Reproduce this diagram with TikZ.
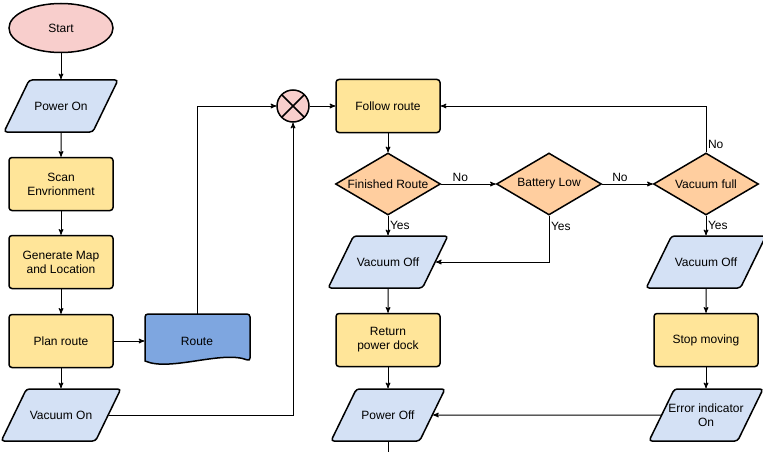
\documentclass[tikz,border=0pt]{standalone}
\usepackage{fontspec}
\setmainfont{Liberation Sans}
\usetikzlibrary{arrows,calc,shapes.geometric}

\definecolor{StartPink}{HTML}{F8CECC}
\definecolor{IoBlue}{HTML}{D4E1F5}
\definecolor{ProcYellow}{HTML}{FFE599}
\definecolor{DecOrange}{HTML}{FFCE9F}
\definecolor{RouteBlue}{HTML}{7EA6E0}

\tikzset{
  startstop/.style={ellipse, draw, line width=1.5pt, fill=StartPink, minimum width=104pt, minimum height=49pt},
  io/.style={trapezium, trapezium left angle=63, trapezium right angle=117, trapezium stretches body,
    draw, line width=1.5pt, rounded corners=3pt, fill=IoBlue, inner ysep=20.5pt,
    minimum width=114pt, minimum height=52pt, align=center},
  process/.style={rectangle, draw, line width=1.5pt, rounded corners=3pt, fill=ProcYellow,
    minimum width=104pt, minimum height=53pt, align=center},
  decision/.style={diamond, draw, line width=1.5pt, fill=DecOrange, minimum width=105pt, minimum height=62pt, inner sep=0pt},
  sumnode/.style={circle, draw, line width=1.5pt, fill=StartPink, minimum size=32pt, inner sep=0pt,
    path picture={\draw[line width=1.5pt] (path picture bounding box.north west) -- (path picture bounding box.south east)
      (path picture bounding box.north east) -- (path picture bounding box.south west);}},
  flow/.style={->, >=stealth', line width=1pt},
  lbl/.style={inner sep=1.5pt}
}

\begin{document}
\begin{tikzpicture}[x=1pt, y=-1pt, font=\fontsize{12}{14}\selectfont]
\useasboundingbox (0,0) rectangle (763,452);

% left column
\node[startstop] (start) at (61,28) {Start};
\node[io] (poweron) at (61,106) {Power On};
\node[process] (scan) at (61,184) {Scan\\Envrionment};
\node[process] (genmap) at (61,262) {Generate Map\\and Location};
\node[process] (plan) at (61,341) {Plan route};
\node[io] (vacon) at (61,415) {Vacuum On};

% route document
\coordinate (R) at (197,341);
\draw[line width=1.5pt, fill=RouteBlue, rounded corners=3pt] ($(R)+(-52,20)$) -- ($(R)+(-52,-27)$) -- ($(R)+(53,-27)$)
  -- ($(R)+(53,20)$) [sharp corners] .. controls ($(R)+(25,9)$) and ($(R)+(-27,31)$) .. ($(R)+(-52,20)$) -- cycle;
\node[minimum width=105pt, minimum height=54pt] (route) at (R) {Route};

\node[sumnode] (sum) at (293,106) {};

% middle column
\node[process] (follow) at (388,106) {Follow route};
\node[decision, label=center:Finished Route] (fin) at (388,184) {};
\node[io] (vacoffL) at (388,262) {Vacuum Off};
\node[process] (ret) at (388,340) {Return\\power dock};
\node[io] (poweroff) at (388,415) {Power Off};
\coordinate (exit) at (388,452);

% right side
\node[decision, label=center:Battery Low] (batt) at (549,184) {};
\node[decision, label=center:Vacuum full] (vacfull) at (706,184) {};
\node[io] (vacoffR) at (706,262) {Vacuum Off};
\node[process] (stop) at (706,340) {Stop moving};
\node[io, inner ysep=13.5pt, inner xsep=-12pt] (err) at (706,415) {Error indicator\\On};

% connectors
\draw[flow] (start) -- (poweron);
\draw[flow] (poweron) -- (scan);
\draw[flow] (scan) -- (genmap);
\draw[flow] (genmap) -- (plan);
\draw[flow] (plan) -- (vacon);
\draw[flow] (plan) -- (route);
\draw[flow] (route.north) |- (sum);
\draw[flow] (vacon) -| (sum);
\draw[flow] (sum) -- (follow);
\draw[flow] (follow) -- (fin);
\draw[flow] (fin) -- node[pos=0.35, above, lbl] {No} (batt);
\draw[flow] (fin) -- node[midway, right, lbl] {Yes} (vacoffL);
\draw[flow] (batt) -- node[pos=0.35, above, lbl] {No} (vacfull);
\draw[flow] (batt) |- node[pos=0.12, right, lbl] {Yes} (vacoffL);
\draw[flow] (vacfull) |- node[pos=0.08, right, lbl] {No} (follow);
\draw[flow] (vacfull) -- node[midway, right, lbl] {Yes} (vacoffR);
\draw[flow] (vacoffL) -- (ret);
\draw[flow] (ret) -- (poweroff);
\draw[flow] (vacoffR) -- (stop);
\draw[flow] (stop) -- (err);
\draw[flow] (err) -- (poweroff);
\draw[line width=1pt] (poweroff) -- (exit);

\end{tikzpicture}
\end{document}
